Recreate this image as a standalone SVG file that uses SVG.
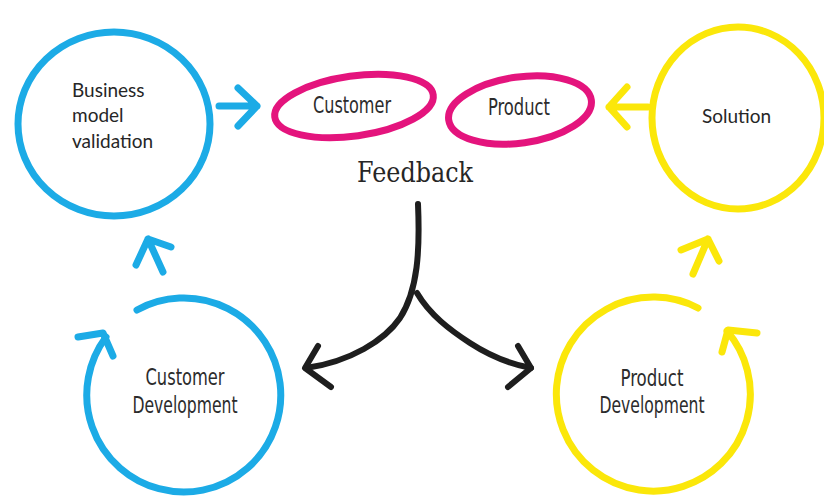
<svg xmlns="http://www.w3.org/2000/svg" width="824" height="496" viewBox="0 0 824 496">
  <style>
    .blue { fill: none; stroke: #1cabe6; stroke-width: 7; stroke-linecap: round; stroke-linejoin: round; }
    .yellow { fill: none; stroke: #fbe70a; stroke-width: 7; stroke-linecap: round; stroke-linejoin: round; }
    .pink { fill: none; stroke: #e4147d; stroke-width: 7; }
    .black { fill: none; stroke: #1e1e1e; stroke-width: 6; stroke-linecap: round; stroke-linejoin: round; }
    .hum { font-family: Lato, "Open Sans", sans-serif; font-size: 19px; fill: #262626; }
    .cond { font-family: "DejaVu Sans Condensed", "DejaVu Sans", sans-serif; font-size: 23px; fill: #2c2c2c; text-anchor: middle; }
    .serif { font-family: "DejaVu Serif", serif; font-size: 28px; fill: #262626; text-anchor: middle; }
  </style>
  <rect width="824" height="496" fill="#ffffff"/>

  <g id="business-model-validation">
    <ellipse class="blue" cx="114" cy="124" rx="96" ry="92"/>
    <text class="hum" x="72" y="97">Business</text>
    <text class="hum" x="72" y="122">model</text>
    <text class="hum" x="72" y="148">validation</text>
  </g>

  <g id="customer-feedback">
    <ellipse class="pink" cx="354" cy="106" rx="80" ry="30" transform="rotate(-8 354 106)"/>
    <text class="cond" x="352" y="113" textLength="78" lengthAdjust="spacingAndGlyphs">Customer</text>
  </g>

  <g id="product-feedback">
    <ellipse class="pink" cx="520" cy="110" rx="72" ry="33" transform="rotate(-8 520 110)"/>
    <text class="cond" x="519" y="115" textLength="62" lengthAdjust="spacingAndGlyphs">Product</text>
  </g>

  <g id="feedback">
    <text class="serif" x="415" y="182" textLength="116" lengthAdjust="spacingAndGlyphs">Feedback</text>
  </g>

  <g id="solution">
    <ellipse class="yellow" cx="738" cy="118" rx="86" ry="91"/>
    <text class="hum" x="702" y="123">Solution</text>
  </g>

  <g id="customer-development">
    <path class="blue" d="M137,310 A97,97 0 1,1 106,337"/>
    <text class="cond" x="185" y="385" textLength="79" lengthAdjust="spacingAndGlyphs">Customer</text>
    <text class="cond" x="185" y="413" textLength="105" lengthAdjust="spacingAndGlyphs">Development</text>
  </g>

  <g id="product-development">
    <path class="yellow" d="M698,308 A97,97 0 1,0 727,331"/>
    <text class="cond" x="652" y="386" textLength="63" lengthAdjust="spacingAndGlyphs">Product</text>
    <text class="cond" x="652" y="413" textLength="105" lengthAdjust="spacingAndGlyphs">Development</text>
  </g>

  <g id="connectors">
    <path class="blue" d="M219,106 L257,106 M238,88 L257,106 L238,126"/>
    <path class="yellow" d="M648,107 L609,107 M627,87 L609,107 L627,127"/>
    <path class="blue" d="M163,272 L148,239 M136,265 L148,239 L171,247"/>
    <path class="yellow" d="M693,274 L708,239 M681,250 L708,239 L719,261"/>
    <path class="blue" d="M78,337 L103,333 L113,356"/>
    <path class="yellow" d="M757,333 L728,330 L722,352"/>
    <path class="black" d="M418,204 C420,250 418,290 400,318 C385,340 350,362 306,368"/>
    <path class="black" d="M417,293 C430,315 450,330 470,343 C490,356 510,364 531,368"/>
    <path class="black" d="M318,346 L305,368 L331,387"/>
    <path class="black" d="M518,346 L531,368 L508,387"/>
  </g>
</svg>
